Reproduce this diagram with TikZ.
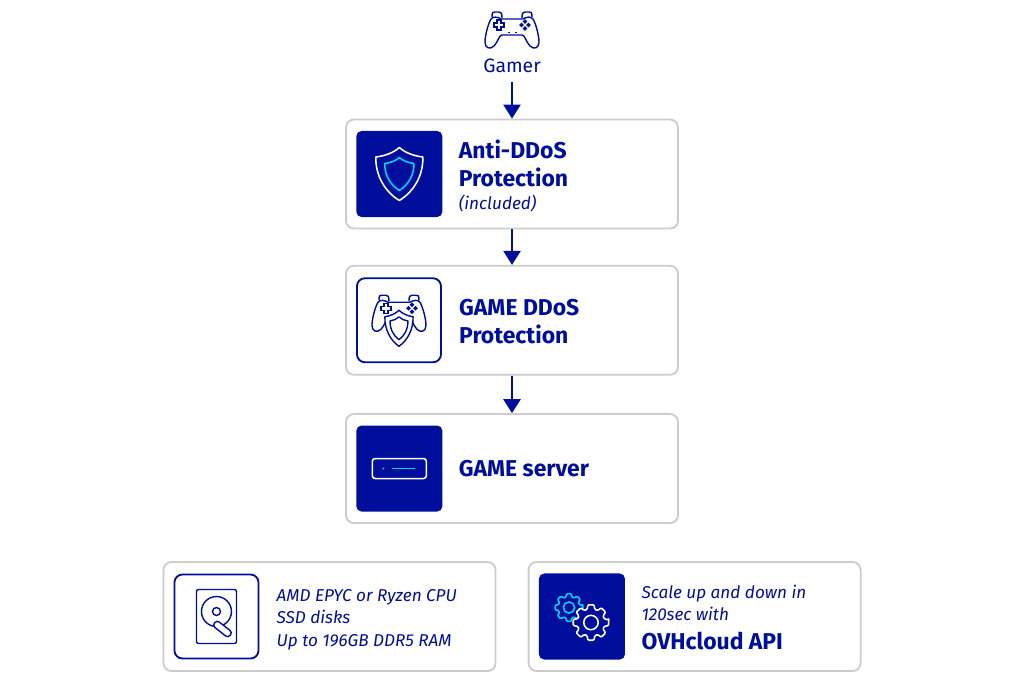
\documentclass[tikz,border=0pt]{standalone}
\usepackage{fontspec}
\setmainfont{Fira Sans}
\usetikzlibrary{positioning, arrows.meta, calc}

\definecolor{ovhnavy}{HTML}{000E9C}
\definecolor{ovhcyan}{HTML}{00D2FF}
\definecolor{panelgray}{HTML}{CCCCCC}

\newcommand{\headfont}{\fontsize{16.3}{20}\selectfont\bfseries}
\newcommand{\notefont}{\fontsize{12.2}{16}\selectfont\itshape}

\tikzset{
	% --- Icons, drawn around their centre, 1 unit = 1 px ---
	pics/padicon/.style={code={
		\draw[line join=round] (-10,5) -- (10,5) .. controls (13,5) and (14,12) .. (18,16)
			.. controls (22,20) and (27,18) .. (27,12) .. controls (27,6) and (24,-6) .. (21,-11)
			.. controls (19,-14) and (14,-13) .. (11,-11) -- (-11,-11)
			.. controls (-14,-13) and (-19,-14) .. (-21,-11) .. controls (-24,-6) and (-27,6) .. (-27,12)
			.. controls (-27,18) and (-22,20) .. (-18,16) .. controls (-14,12) and (-13,5) .. (-10,5) -- cycle;
		\draw (-20,-13) .. controls (-20,-18) and (-19,-18) .. (-17,-18) -- (-13,-18) .. controls (-11,-18) and (-10,-17) .. (-10,-12);
		\draw (20,-13) .. controls (20,-18) and (19,-18) .. (17,-18) -- (13,-18) .. controls (11,-18) and (10,-17) .. (10,-12);
		\draw (-15,-10) -- (-11,-10) -- (-11,-7) -- (-8,-7) -- (-8,-3) -- (-11,-3) -- (-11,0) -- (-15,0) -- (-15,-3) -- (-18,-3) -- (-18,-7) -- (-15,-7) -- cycle;
		\foreach \bx/\by in {13/-8.5, 13/-1.5, 9.5/-5, 16.5/-5} {
			\draw (\bx,\by) circle [radius=1.3];
		}
	}},
	pics/shieldicon/.style={code={
		\draw[pic actions, line join=round] (0,-26.5) .. controls (6,-21) and (15,-18) .. (23.5,-17)
			.. controls (24,2) and (14,18) .. (0,26.5)
			.. controls (-14,18) and (-24,2) .. (-23.5,-17)
			.. controls (-15,-18) and (-6,-21) .. (0,-26.5) -- cycle;
	}},
	pics/cogicon/.style={code={
		\draw[fill=ovhnavy, line join=round, rounded corners=0.8pt] (-8:#1)
			\foreach \a in {0,45,...,315} {
				-- (\a-10:#1) -- (\a+10:#1) -- (\a+16:#1*0.76) -- (\a+29:#1*0.76)
			} -- cycle;
		\draw (0,0) circle [radius=#1*0.4];
	}},
	pics/diskicon/.style={code={
		\draw[rounded corners=0.05cm] (-20,-27) rectangle (20,27);
		\draw (0,-5) circle [radius=15];
		\draw (0,-5) circle [radius=4];
		\begin{scope}[shift={(6,12.5)}, rotate=-38]
			\draw[fill=white, rounded corners=0.08cm] (-10,-3.5) rectangle (10,3.5);
		\end{scope}
	}},
	pics/servericon/.style={code={
		\draw[white, rounded corners=0.07cm] (-27,-10) rectangle (27,10);
		\fill[ovhcyan] (-16,0) circle [radius=1];
		\draw[ovhcyan] (-7,0) -- (16,0);
	}}
}

\begin{document}
\begin{tikzpicture}[
	x=0.025cm, y=-0.025cm,
	% --- Styles ---
	panelbox/.style={
		rectangle, draw=panelgray, line width=1.3pt, rounded corners=0.2cm, fill=white,
		minimum width=8.3cm, minimum height=2.725cm, inner sep=0pt
	},
	fullicon/.style={
		rectangle, fill=ovhnavy, rounded corners=0.13cm, minimum size=2.15cm, inner sep=0pt
	},
	lineicon/.style={
		rectangle, draw=ovhnavy, fill=white, line width=1.3pt, rounded corners=0.2cm,
		minimum size=2.1cm, inner sep=0pt
	},
	paneltext/.style={
		text=ovhnavy, align=left, inner sep=0pt
	},
	line/.style={
		draw=ovhnavy, line width=1.4pt, -{Triangle[width=0.43cm, length=0.35cm]}
	},
	iconline/.style={
		color=ovhnavy, line width=1pt
	}
	]
	\useasboundingbox (0,0) rectangle (1024,683);

	% --- 1. Gamer ---
	\pic[iconline] at (512,30) {padicon};
	\draw[iconline] (507.5,32.5) -- (509.5,32.5);
	\draw[iconline] (514.5,32.5) -- (516.5,32.5);
	\node[text=ovhnavy, font=\fontsize{13.8}{17}\selectfont, inner sep=0pt, minimum height=0.8cm] (gamer) at (512,66) {Gamer};

	% --- 2. Main chain ---
	\node[panelbox] (anti) at (512,174) {};
	\node[panelbox, below=0.885cm of anti] (ddos) {};
	\node[panelbox, below=0.935cm of ddos] (server) {};

	\node[fullicon, right=0.275cm of anti.west] (antiicon) {};
	\node[lineicon, right=0.275cm of ddos.west] (ddosicon) {};
	\node[fullicon, right=0.275cm of server.west] (servericon) {};

	\pic[white, line width=1.1pt] at (antiicon) {shieldicon};
	\pic[ovhcyan, line width=1.1pt, scale=0.62] at (antiicon) {shieldicon};

	\pic[iconline] at ($(ddosicon)+(0,-7)$) {padicon};
	\pic[iconline, fill=white, xscale=0.6, yscale=0.68] at ($(ddosicon)+(0,8)$) {shieldicon};
	\pic[iconline, xscale=0.38, yscale=0.43] at ($(ddosicon)+(0,8)$) {shieldicon};

	\pic[line width=1.1pt] at (servericon) {servericon};

	\node[paneltext, right=0.4cm of antiicon, yshift=-0.05cm] (antitext) {\headfont Anti-DDoS\\[5.5pt]\headfont Protection\\[4pt]\notefont (included)};
	\node[paneltext, right=0.425cm of ddosicon, yshift=-0.025cm, font=\headfont] (ddostext) {GAME DDoS\\Protection};
	\node[paneltext, right=0.4cm of servericon, font=\headfont] (servertext) {GAME server};

	\draw[line] (gamer) -- (anti);
	\draw[line] (anti) -- (ddos);
	\draw[line] (ddos) -- (server);

	% --- 3. Bottom panels ---
	\node[panelbox] (specs) at (329.5,616.5) {};
	\node[panelbox, right=0.78cm of specs] (scaling) {};

	\node[lineicon, right=0.275cm of specs.west] (specsicon) {};
	\node[fullicon, right=0.275cm of scaling.west] (scalingicon) {};

	\pic[iconline] at (specsicon) {diskicon};

	\pic[ovhcyan, line width=1.1pt] at ($(scalingicon)+(-13,-9)$) {cogicon=14};
	\pic[white, line width=1.1pt] at ($(scalingicon)+(9,6)$) {cogicon=18};

	\node[paneltext, right=0.425cm of specsicon, yshift=-0.075cm, font=\notefont] (specstext) {AMD EPYC or Ryzen CPU\\SSD disks\\Up to 196GB DDR5 RAM};
	\node[paneltext, right=0.4cm of scalingicon, yshift=-0.03cm] (scalingtext) {\notefont Scale up and down in\\[2pt]\notefont 120sec with\\[7.5pt]\headfont OVHcloud API};
\end{tikzpicture}
\end{document}
